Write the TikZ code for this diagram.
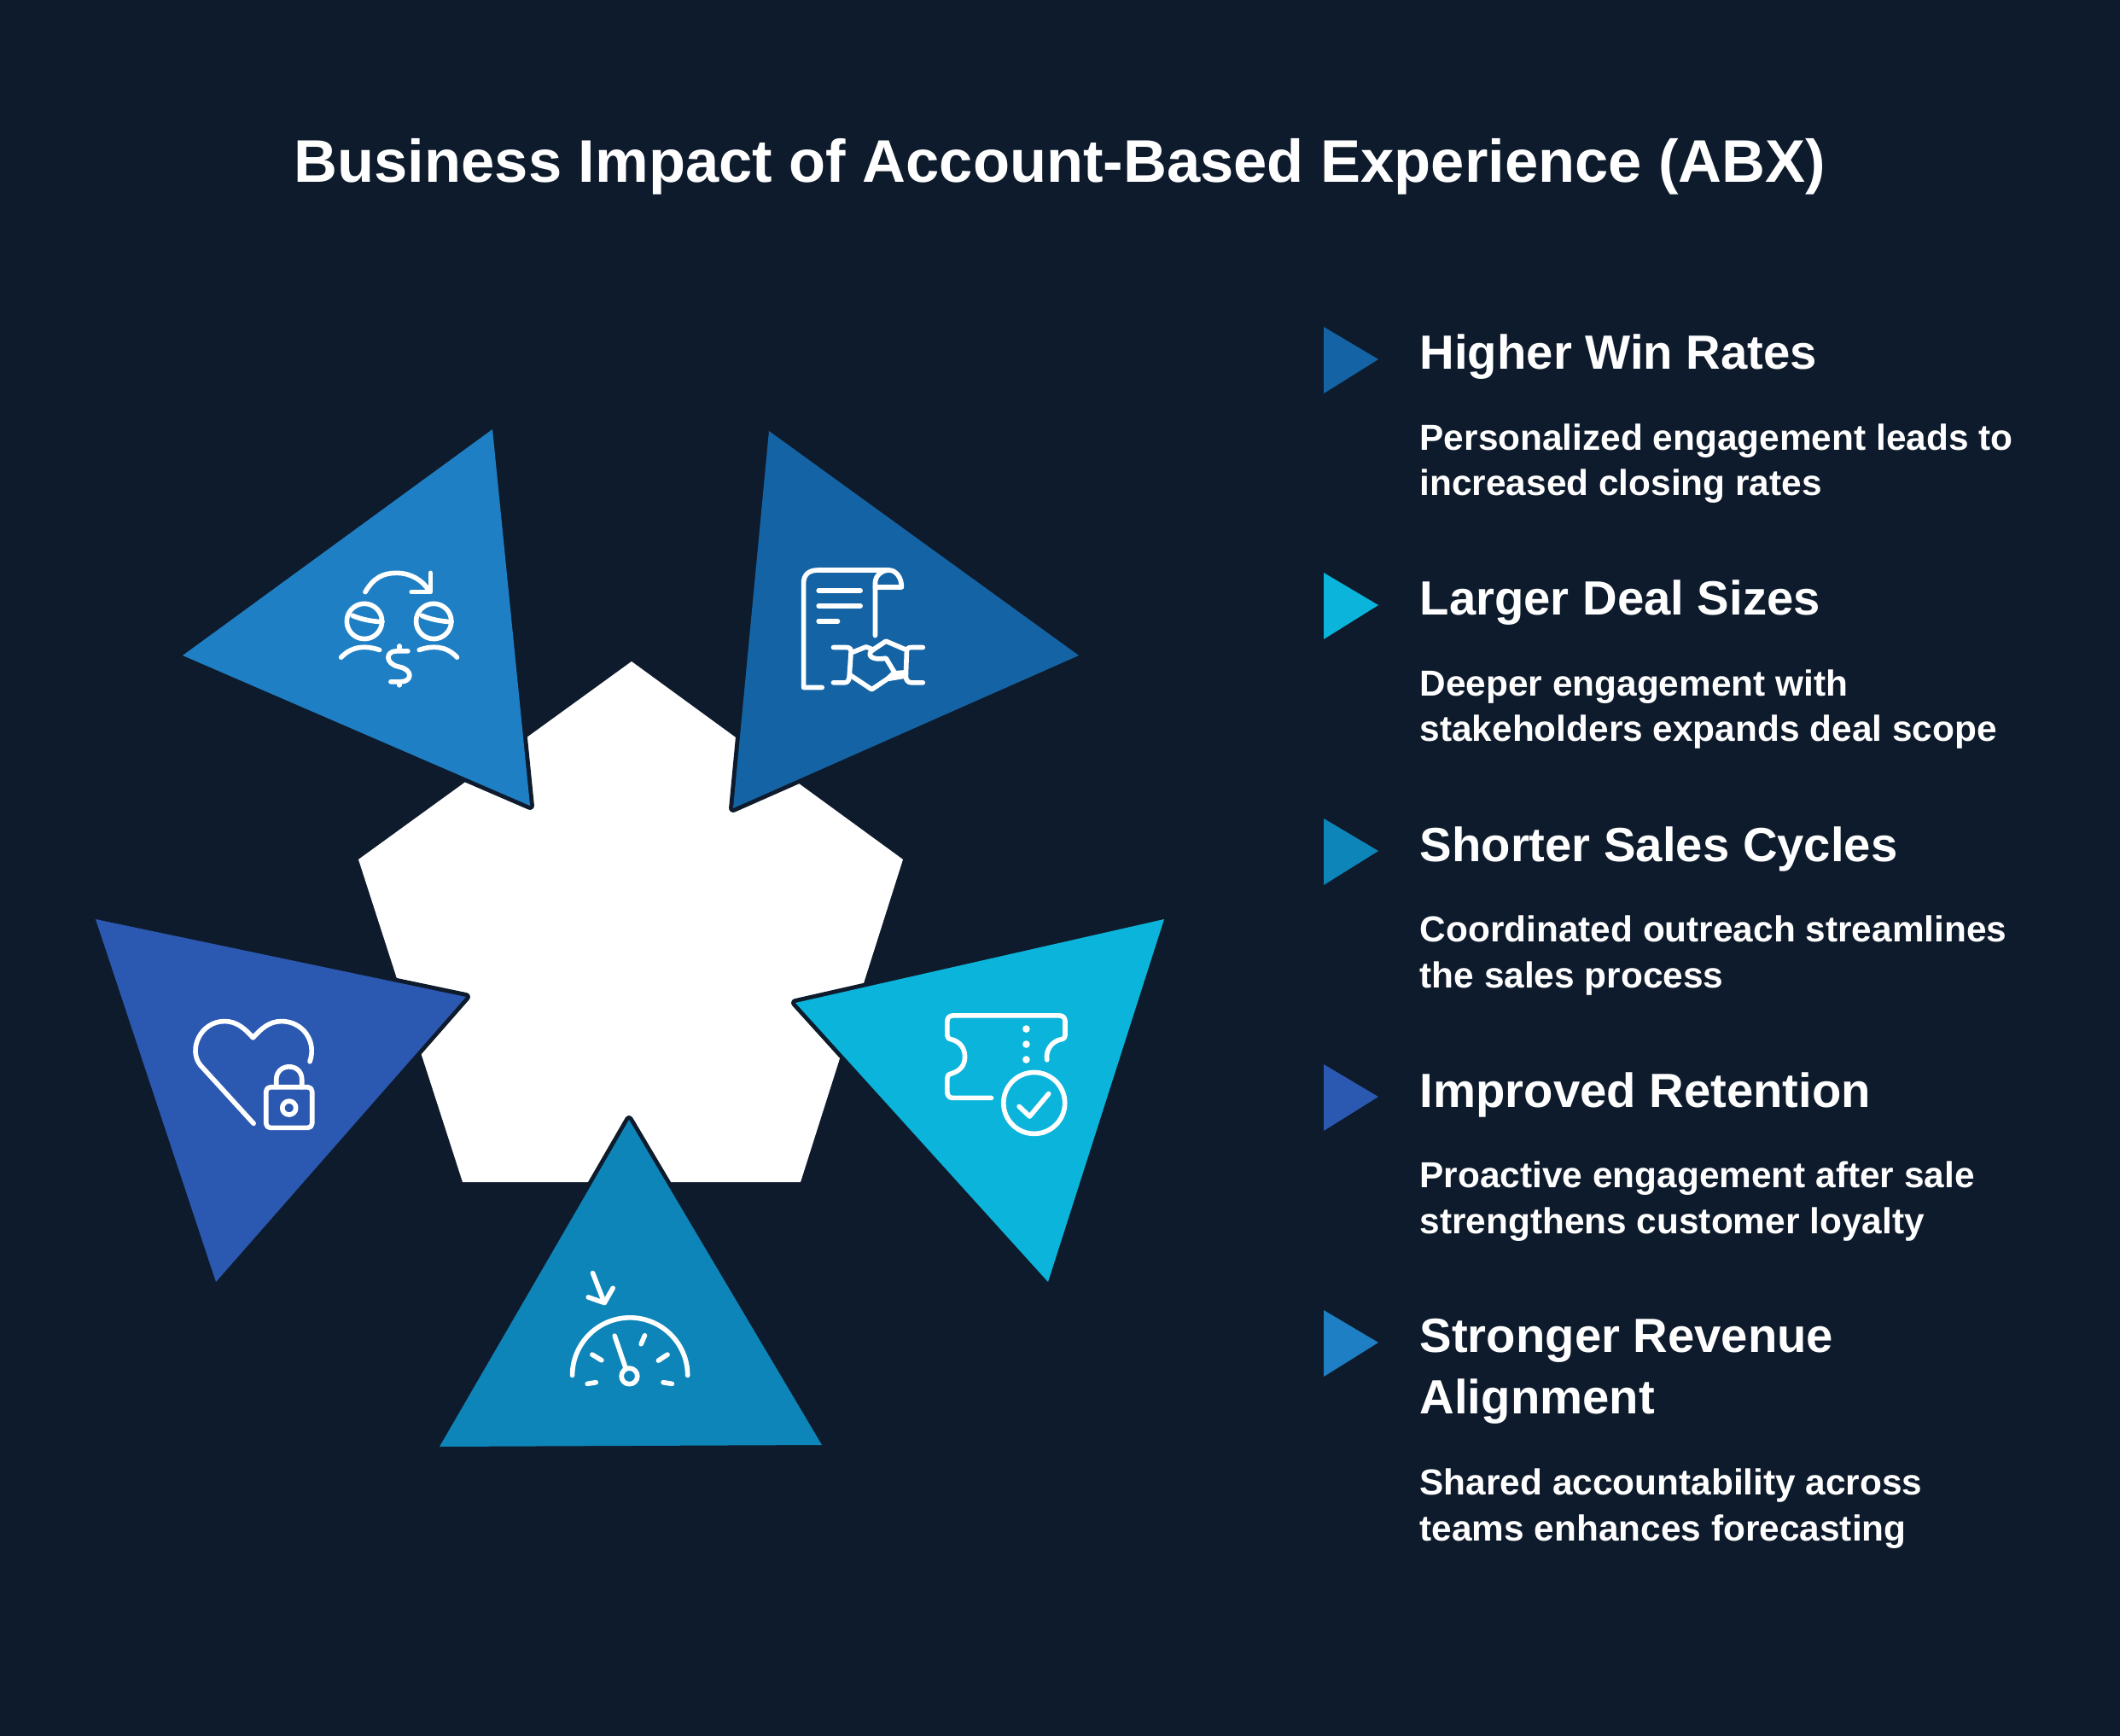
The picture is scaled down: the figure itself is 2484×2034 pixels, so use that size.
\documentclass[tikz,border=0pt]{standalone}
\usepackage{fontspec}
\setmainfont{Liberation Sans}
\definecolor{bgdark}{HTML}{0E1B2C}
\definecolor{blueA}{HTML}{1F7FC4}
\definecolor{blueB}{HTML}{1464A5}
\definecolor{blueC}{HTML}{0BB4DA}
\definecolor{blueD}{HTML}{0D85B8}
\definecolor{blueE}{HTML}{2B58B0}
\tikzset{
    titletext/.style = {anchor = base, text = white, font = \fontsize{20.05}{24}\selectfont\bfseries},
    headtext/.style = {anchor = base west, align = left, inner sep = 0, text = white, font = \fontsize{16}{20.2}\selectfont\bfseries},
    bodytext/.style = {anchor = base west, align = left, inner sep = 0, text = white, font = \fontsize{12.05}{15.3}\selectfont\bfseries},
    bigtri/.style = {preaction = {draw = bgdark, line width = 2.8pt, line join = round}},
    icon/.style = {shift = {#1}, x = 0.003333cm, y = -0.003333cm, draw = white, line width = 1.6pt, line cap = round, line join = round},
}

\begin{document}
\begin{tikzpicture}[x = 0.01cm, y = -0.01cm]
    \useasboundingbox (0, 0) rectangle (2484, 2034);
    \fill[bgdark] (0, 0) rectangle (2484, 2034);

    \node[titletext] (title) at (1242, 214) {Business Impact of Account-Based Experience (ABX)};

    % pentagon and triangles
    \fill[white] (740, 775) -- (1058, 1007) -- (938, 1385) -- (542, 1385) -- (420, 1007) -- cycle;
    \path[bigtri, fill = blueA] (577, 503) -- (214, 768) -- (621, 944) -- cycle;
    \path[bigtri, fill = blueB] (901, 505) -- (1264, 768) -- (859, 947) -- cycle;
    \path[bigtri, fill = blueC] (1364, 1077) -- (932, 1175) -- (1228, 1502) -- cycle;
    \path[bigtri, fill = blueD] (737, 1312) -- (515, 1695) -- (963, 1693) -- cycle;
    \path[bigtri, fill = blueE] (112, 1077) -- (546, 1168) -- (253, 1502) -- cycle;

    % money between people
    \begin{scope}[icon = {(200, 480)}]
        \draw (685, 642) .. controls (715, 590) and (750, 575) .. (795, 575) .. controls (845, 575) and (885, 600) .. (908, 635);
        \draw (915, 575) -- (915, 642) -- (848, 642);
        \draw (682, 745) circle (62);
        \draw (926, 745) circle (62);
        \draw (640, 725) .. controls (670, 738) and (710, 746) .. (745, 747);
        \draw (884, 725) .. controls (914, 738) and (954, 746) .. (989, 747);
        \draw (600, 872) .. controls (640, 830) and (690, 830) .. (735, 846);
        \draw (875, 846) .. controls (920, 830) and (970, 830) .. (1008, 872);
        \draw (835, 850) -- (795, 850) .. controls (755, 850) and (755, 895) .. (803, 905) .. controls (855, 915) and (850, 958) .. (810, 958) -- (775, 958);
        \draw (805, 832) -- (805, 848);
        \draw (805, 958) -- (805, 970);
    \end{scope}

    % contract and handshake
    \begin{scope}[icon = {(880, 480)}]
        \draw (250, 978) -- (185, 978) -- (185, 610) .. controls (185, 580) and (205, 565) .. (235, 565) -- (485, 565) .. controls (510, 565) and (530, 590) .. (530, 625) -- (437, 625);
        \draw (437, 795) -- (437, 610) .. controls (437, 585) and (460, 565) .. (485, 565);
        \draw (238, 637) -- (385, 637);
        \draw (238, 691) -- (385, 691);
        \draw (238, 745) -- (305, 745);
        \draw (290, 837) -- (335, 837) .. controls (348, 837) and (352, 842) .. (352, 852) -- (346, 940) .. controls (345, 952) and (340, 961) .. (330, 961) -- (290, 961);
        \draw (605, 837) -- (565, 837) .. controls (552, 837) and (548, 842) .. (548, 852) -- (545, 940) .. controls (546, 952) and (552, 961) .. (565, 961) -- (605, 961);
        \draw (355, 855) -- (405, 835) -- (430, 845);
        \draw (430, 845) -- (475, 815) -- (545, 845);
        \draw (430, 845) .. controls (405, 860) and (420, 885) .. (475, 875) -- (505, 925) -- (480, 948);
        \draw (505, 928) -- (545, 925);
        \draw (350, 935) -- (425, 985) -- (480, 948) -- (540, 938);
    \end{scope}

    % heart and padlock
    \begin{scope}[icon = {(180, 1140)}]
        \draw (352, 530) -- (165, 325) .. controls (120, 270) and (165, 170) .. (250, 170) .. controls (295, 170) and (325, 200) .. (350, 228) .. controls (375, 200) and (405, 170) .. (450, 170) .. controls (525, 170) and (575, 240) .. (550, 312);
        \draw[rounded corners = 1.4pt] (396, 402) rectangle (558, 545);
        \draw (432, 402) -- (432, 375) .. controls (432, 345) and (455, 330) .. (477, 330) .. controls (500, 330) and (522, 345) .. (522, 375) -- (522, 402);
        \draw (477, 475) circle (24);
    \end{scope}

    % speedometer
    \begin{scope}[icon = {(620, 1440)}]
        \draw (224, 155) -- (265, 260);
        \draw (208, 240) -- (265, 260) -- (295, 208);
        \draw (152, 515) arc [start angle = 180, end angle = 360, radius = 203];
        \draw (301, 376) -- (340, 490);
        \draw (353, 518) circle (28);
        \draw (205, 545) -- (235, 540);
        \draw (222, 442) -- (255, 462);
        \draw (394, 405) -- (407, 375);
        \draw (455, 463) -- (487, 442);
        \draw (472, 540) -- (503, 545);
    \end{scope}

    % ticket with check
    \begin{scope}[icon = {(1060, 1140)}]
        \draw (305, 440) -- (170, 440) .. controls (158, 440) and (150, 432) .. (150, 420) -- (150, 370) .. controls (150, 360) and (155, 357) .. (165, 354) .. controls (195, 345) and (212, 325) .. (212, 295) .. controls (212, 265) and (195, 242) .. (165, 234) .. controls (155, 232) and (150, 228) .. (150, 220) -- (150, 170) .. controls (150, 158) and (158, 150) .. (170, 150) -- (545, 150) .. controls (557, 150) and (565, 158) .. (565, 170) -- (565, 220) .. controls (565, 228) and (560, 232) .. (550, 234) .. controls (520, 240) and (495, 270) .. (501, 306);
        \fill[white] (428, 197) circle (13);
        \fill[white] (428, 251) circle (13);
        \fill[white] (428, 305) circle (13);
        \draw (456, 458) circle (108);
        \draw (403, 470) -- (440, 505) -- (507, 425);
    \end{scope}

    % list on the right
    \fill[blueB] (1551, 383) -- (1615, 421) -- (1551, 461) -- cycle;
    \node[headtext] (winhead) at (1663, 433) {Higher Win Rates};
    \node[bodytext] (winbody) at (1663, 581) {Personalized engagement leads to\\increased closing rates};

    \fill[blueC] (1551, 671) -- (1615, 709) -- (1551, 749) -- cycle;
    \node[headtext] (dealhead) at (1663, 721) {Larger Deal Sizes};
    \node[bodytext] (dealbody) at (1663, 869) {Deeper engagement with\\stakeholders expands deal scope};

    \fill[blueD] (1551, 959) -- (1615, 997) -- (1551, 1037) -- cycle;
    \node[headtext] (cyclehead) at (1663, 1009) {Shorter Sales Cycles};
    \node[bodytext] (cyclebody) at (1663, 1157) {Coordinated outreach streamlines\\the sales process};

    \fill[blueE] (1551, 1247) -- (1615, 1285) -- (1551, 1325) -- cycle;
    \node[headtext] (retainhead) at (1663, 1297) {Improved Retention};
    \node[bodytext] (retainbody) at (1663, 1445) {Proactive engagement after sale\\strengthens customer loyalty};

    \fill[blueA] (1551, 1535) -- (1615, 1573) -- (1551, 1613) -- cycle;
    \node[headtext] (revenuehead) at (1663, 1656) {Stronger Revenue\\Alignment};
    \node[bodytext] (revenuebody) at (1663, 1805) {Shared accountability across\\teams enhances forecasting};
\end{tikzpicture}
\end{document}
